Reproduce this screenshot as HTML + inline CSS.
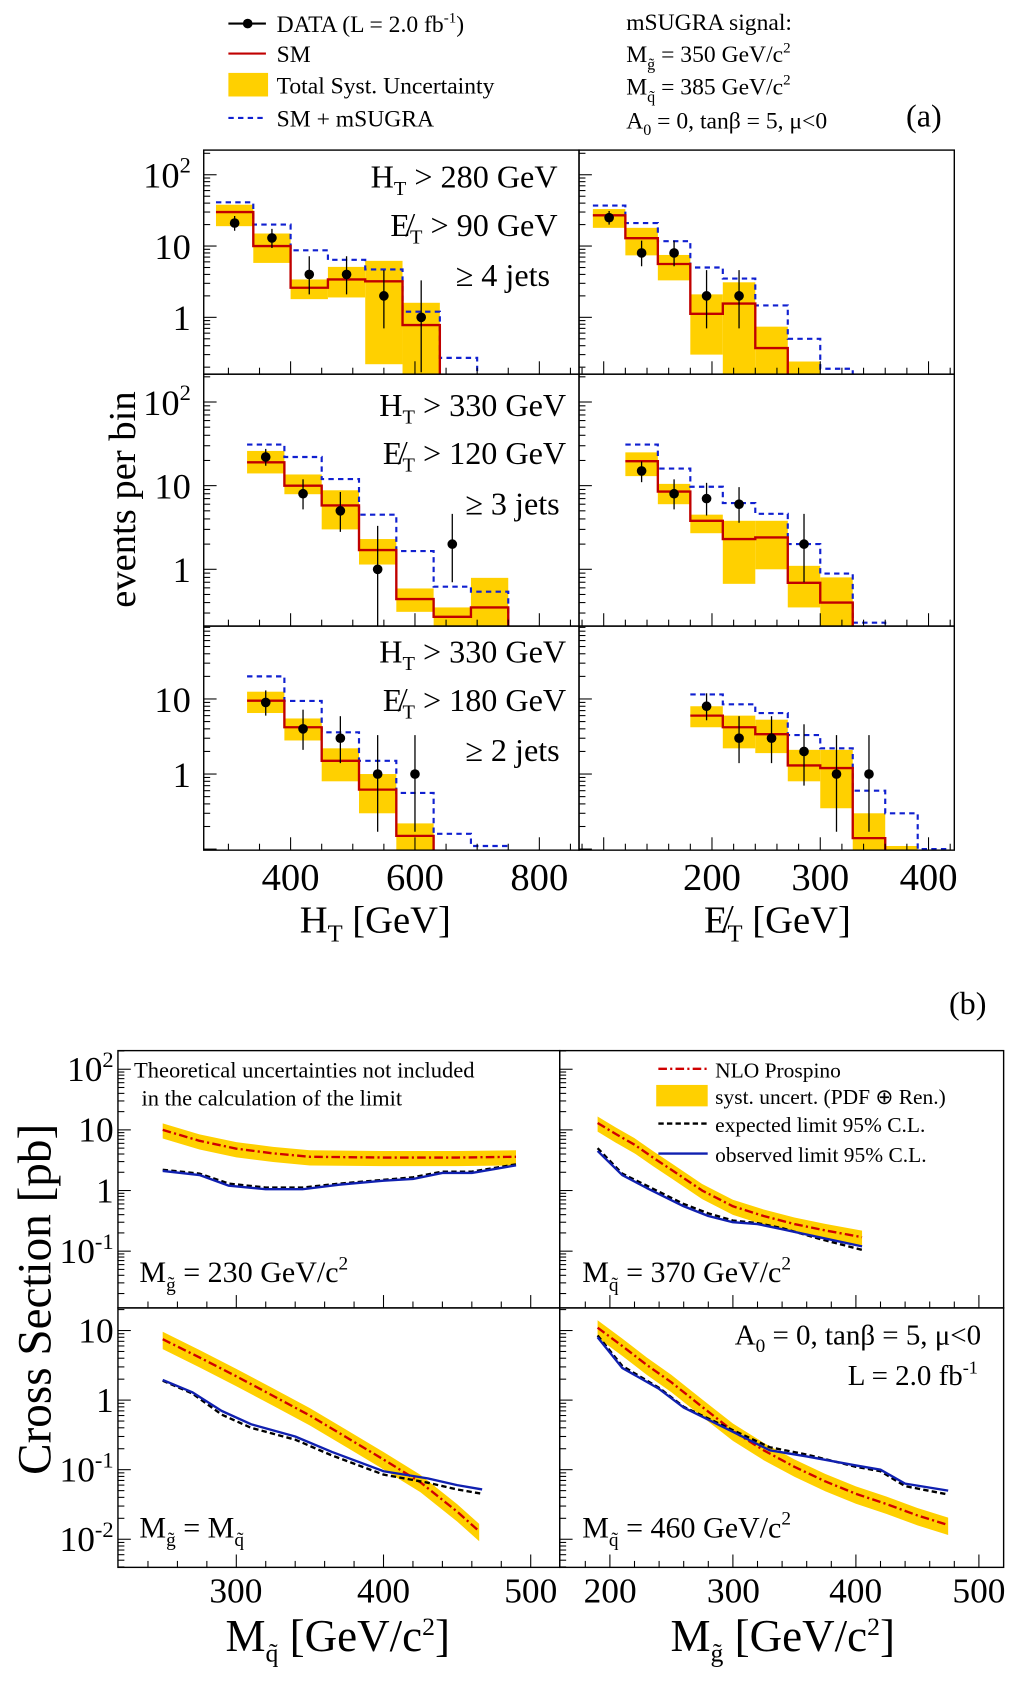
<!DOCTYPE html>
<html><head><meta charset="utf-8"><style>
html,body{margin:0;padding:0;background:#fff;}
svg{display:block;font-family:"Liberation Serif",serif;}
</style></head><body>
<svg id="fig" width="1024" height="1681" viewBox="0 0 955 1568" preserveAspectRatio="none" xmlns="http://www.w3.org/2000/svg">
<defs id="defs"></defs>
<g font-size="22">
 <line x1="213" y1="22" x2="248" y2="22" stroke="#000" stroke-width="2"/><circle cx="231" cy="22" r="4.5"/>
 <text x="258" y="30">DATA (L = 2.0 fb<tspan dy="-9" font-size="14">-1</tspan><tspan dy="9">)</tspan></text>
 <line x1="213" y1="50" x2="248" y2="50" stroke="#c00000" stroke-width="2"/>
 <text x="258" y="58">SM</text>
 <rect x="213" y="68" width="37" height="22" fill="#ffd000"/>
 <text x="258" y="87">Total Syst. Uncertainty</text>
 <line x1="213" y1="110" x2="248" y2="110" stroke="#1020d0" stroke-width="2" stroke-dasharray="5,4"/>
 <text x="258" y="118">SM + mSUGRA</text>
 <text x="584" y="28">mSUGRA signal:</text>
 <text x="584" y="58">M<tspan dy="7" font-size="15">g̃</tspan><tspan dy="-7"> = 350 GeV/c</tspan><tspan dy="-9" font-size="14">2</tspan></text>
 <text x="584" y="88">M<tspan dy="7" font-size="15">q̃</tspan><tspan dy="-7"> = 385 GeV/c</tspan><tspan dy="-9" font-size="14">2</tspan></text>
 <text x="584" y="120">A<tspan dy="6" font-size="15">0</tspan><tspan dy="-6"> = 0,  tanβ = 5,  μ&lt;0</tspan></text>
 <text x="845" y="118" font-size="30">(a)</text>
</g>
<text x="885" y="946" font-size="30">(b)</text>
<g id="plots"></g>
</svg>
<script>
// ---------- Panel (a) data ----------
const htEdgesR1 = [280,340,400,460,520,580,640,700,760,820,880];
const htEdgesR23 = [330,390,450,510,570,630,690,750,810,870];
const metEdgesR1 = [90,120,150,180,210,240,270,300,330,360,390,420,450];
const metEdgesR2 = [120,150,180,210,240,270,300,330,360,390,420,450];
const metEdgesR3 = [180,210,240,270,300,330,360,390,420,450];

const r1L_sm = [30,10,2.6,3.4,3.2,0.78,0,0,0,0];
const r1L_lo = [19,5.8,1.8,1.9,0.22,0,0,0,0,0];
const r1L_hi = [38,15,3.4,5.1,6.2,1.6,0,0,0,0];
const r1L_sig = [41,20,8.7,6.4,4.7,1.2,0.27,0,0,0];
const r1L_dx = [310,370,430,490,550,610];
const r1L_dy = [21,13,4,4,2,1];
const r1L_elo = [16.4,9.4,2.1,2.1,0.7,0.17];
const r1L_ehi = [26.4,17.4,7.2,7.2,4.6,3.3];

const r1R_sm = [27,12.9,5.6,1.12,1.56,0.37,0,0,0,0,0,0];
const r1R_lo = [18,7.4,3.3,0.3,0,0,0,0,0,0,0,0];
const r1R_hi = [33,18,7.5,2.1,3.1,0.74,0.24,0,0,0,0,0];
const r1R_sig = [37,21,11.7,5,3.5,1.47,0.5,0.19,0,0,0,0];
const r1R_dx = [105,135,165,195,225];
const r1R_dy = [25,8,8,2,2];
const r1R_elo = [20,5.2,5.2,0.7,0.7];
const r1R_ehi = [31,11.9,11.9,4.6,4.6];

const r2L_sm = [19,10,5.8,1.7,0.44,0.27,0.35,0,0];
const r2L_lo = [14,7.9,3.0,1.14,0.31,0,0,0,0];
const r2L_hi = [26,13.6,8.8,2.3,0.59,0.35,0.79,0,0];
const r2L_sig = [31,22,12,4.5,1.65,0.62,0.54,0,0];
const r2L_dx = [360,420,480,540,660];
const r2L_dy = [22,8,5,1,2];
const r2L_elo = [17.3,5.2,2.8,0.17,0.7];
const r2L_ehi = [27.5,11.9,8.4,3.3,4.6];

const r2R_sm = [19.6,8.5,3.8,2.3,2.4,0.69,0.4,0,0,0,0];
const r2R_lo = [13,6,2.7,0.67,1.0,0.35,0,0,0,0,0];
const r2R_hi = [25,10.5,4.5,3.8,3.8,1.1,0.8,0,0,0,0];
const r2R_sig = [31,16,9.7,6.2,4.6,2.0,0.89,0.23,0,0,0];
const r2R_dx = [135,165,195,225,285];
const r2R_dy = [15,8,7,6,2];
const r2R_elo = [11,5.2,4.4,3.6,0.7];
const r2R_ehi = [19.5,11.9,10.8,9.6,4.6];

const r3L_sm = [9.5,4.2,1.5,0.62,0.15,0,0,0,0];
const r3L_lo = [6.5,2.8,0.8,0.3,0,0,0,0,0];
const r3L_hi = [12.5,5.5,2.2,1.0,0.22,0,0,0,0];
const r3L_sig = [20,9.4,3.6,1.5,0.56,0.16,0.11,0,0];
const r3L_dx = [360,420,480,540,600];
const r3L_dy = [9,4,3,1,1];
const r3L_elo = [6,2.1,1.4,0.17,0.17];
const r3L_ehi = [13,7.2,5.9,3.3,3.3];

const r3R_sm = [6,4.2,3.4,1.3,1.2,0.14,0,0,0];
const r3R_lo = [4.2,2.2,1.9,0.8,0.35,0,0,0,0];
const r3R_hi = [8,6,5.3,2.1,2.1,0.3,0.11,0,0];
const r3R_sig = [11.5,8.5,6.5,3.3,2.2,0.6,0.3,0.1,0];
const r3R_dx = [195,225,255,285,315,345];
const r3R_dy = [8,3,3,2,1,1];
const r3R_elo = [5.2,1.4,1.4,0.7,0.17,0.17];
const r3R_ehi = [11.9,5.9,5.9,4.6,3.3,3.3];

// ---------- Panel (b) data ----------
const bTL_nloX = [250,275,300,325,350,400,450,490];
const bTL_nlo = [10,6.6,4.9,4.1,3.6,3.5,3.5,3.6];
const bTL_limX = [250,275,295,320,345,370,400,420,440,460,490];
const bTL_obs = [2.1,1.8,1.2,1.05,1.05,1.25,1.45,1.55,1.95,1.95,2.6];
const bTL_exp = [2.2,1.9,1.3,1.12,1.12,1.3,1.5,1.65,2.05,2.05,2.7];

const bTR_nloX = [190,205,220,235,250,275,300,325,350,375,405];
const bTR_nlo = [13,8.5,5.7,3.5,2.2,1.0,0.55,0.38,0.28,0.22,0.17];
const bTR_limX = [190,210,230,260,280,300,320,340,370,405];
const bTR_obs = [4.5,1.8,1.1,0.55,0.38,0.3,0.28,0.23,0.17,0.12];
const bTR_exp = [5,1.9,1.2,0.6,0.42,0.32,0.29,0.24,0.16,0.105];

const bBL_nloX = [250,275,300,325,350,375,400,425,450,465];
const bBL_nlo = [7.5,4.1,2.2,1.15,0.6,0.29,0.14,0.066,0.025,0.013];
const bBL_limX = [250,270,290,310,340,365,400,430,450,467];
const bBL_obs = [1.95,1.3,0.7,0.45,0.3,0.18,0.095,0.075,0.06,0.052];
const bBL_exp = [1.9,1.25,0.62,0.4,0.27,0.16,0.085,0.065,0.052,0.045];

const bBR_nloX = [190,210,230,250,275,300,325,350,375,400,425,450,475];
const bBR_nlo = [11,6,3.2,1.8,0.8,0.36,0.19,0.11,0.068,0.045,0.032,0.022,0.016];
const bBR_limX = [190,210,240,260,300,330,360,400,420,440,475];
const bBR_obs = [8,2.9,1.45,0.78,0.35,0.19,0.155,0.115,0.1,0.063,0.05];
const bBR_exp = [8.5,3.1,1.5,0.8,0.37,0.21,0.165,0.11,0.095,0.058,0.044];

const bandFrac = 0.28;

// ---------- drawing ----------
const NS = "http://www.w3.org/2000/svg";
const root = document.getElementById('plots');
const defs = document.getElementById('defs');
function el(tag, attrs, parent) {
  const e = document.createElementNS(NS, tag);
  for (const k in attrs) e.setAttribute(k, attrs[k]);
  (parent || root).appendChild(e);
  return e;
}
let clipN = 0;
function makePanel(name, x0, x1, y0, y1, xmin, xmax, lmin, lmax) {
  const g = el('g', {});
  
  
  const id = 'c' + (clipN++);
  const cp = el('clipPath', {id: id}, defs);
  el('rect', {x: x0, y: y0, width: x1 - x0, height: y1 - y0}, cp);
  const inner = el('g', {'clip-path': 'url(#' + id + ')'}, g);
  const P = {g, inner, x0, x1, y0, y1, lmin, lmax,
    X: v => x0 + (v - xmin) / (xmax - xmin) * (x1 - x0),
    Y: v => { const l = v > 0 ? Math.log10(v) : lmin - 1; return y1 - (l - lmin) / (lmax - lmin) * (y1 - y0); }
  };
  return P;
}
function yTicks(P) {
  const sg = el('g', {stroke: '#000', 'stroke-width': 1}, P.g);
  for (let d = Math.floor(P.lmin); d <= Math.ceil(P.lmax); d++) {
    for (let m = 1; m <= 9; m++) {
      const v = m * Math.pow(10, d), l = Math.log10(v);
      if (l < P.lmin || l > P.lmax) continue;
      const y = P.Y(v), len = m === 1 ? 12 : 6;
      el('line', {x1: P.x0, x2: P.x0 + len, y1: y, y2: y}, sg);
    }
  }
}
function xTicks(P, major, minor, lo, hi) {
  const sg = el('g', {stroke: '#000', 'stroke-width': 1}, P.g);
  for (let v = lo; v <= hi; v += minor) {
    const x = P.X(v);
    if (x < P.x0 + 1 || x > P.x1 - 1) continue;
    const len = (Math.abs(v / major - Math.round(v / major)) < 1e-6) ? 12 : 6;
    el('line', {x1: x, x2: x, y1: P.y1, y2: P.y1 - len}, sg);
  }
}
function frame(P) {
  const r = el('rect', {x: P.x0, y: P.y0, width: P.x1 - P.x0, height: P.y1 - P.y0, fill: 'none', stroke: '#000', 'stroke-width': 1.3}, P.g);
  
  
}
function histPanel(name, P, edges, sm, lo, hi, sig, dx, dy, elo, ehi) {
  const bottom = P.y1 + 2;
  const Yc = v => v > 0 ? Math.min(P.Y(v), bottom) : bottom;
  for (let i = 0; i < hi.length; i++) {
    if (!(hi[i] > 0)) continue;
    const r = el('rect', {x: P.X(edges[i]), y: Yc(hi[i]), width: P.X(edges[i + 1]) - P.X(edges[i]), height: Yc(lo[i]) - Yc(hi[i]), fill: '#ffd000'}, P.inner);
    
    
  }
  function step(vals, attrs, nm) {
    let d = '';
    for (let i = 0; i < vals.length; i++) {
      const y = Yc(vals[i]);
      d += (i ? ' L' : 'M') + P.X(edges[i]) + ' ' + y + ' L' + P.X(edges[i + 1]) + ' ' + y;
    }
    const p = el('path', Object.assign({d: d, fill: 'none'}, attrs), P.inner);
    
    
  }
  step(sig, {stroke: '#1020d0', 'stroke-width': 2, 'stroke-dasharray': '5,4'}, 'sm-msugra-hist');
  step(sm, {stroke: '#c00000', 'stroke-width': 2.2}, 'sm-hist');
  for (let i = 0; i < dx.length; i++) {
    const x = P.X(dx[i]);
    const l = el('line', {x1: x, x2: x, y1: Yc(elo[i]), y2: Yc(ehi[i]), stroke: '#000', 'stroke-width': 1.2}, P.inner);
    
    
    const c = el('circle', {cx: x, cy: Yc(dy[i]), r: 4.5, fill: '#000'}, P.inner);
    
    
  }
  frame(P);
}
function curvePanel(P, nloX, nlo, limX, obs, exp) {
  let up = '', dn = '';
  for (let i = 0; i < nloX.length; i++) up += (i ? ' L' : 'M') + P.X(nloX[i]) + ' ' + P.Y(nlo[i] * (1 + bandFrac));
  for (let i = nloX.length - 1; i >= 0; i--) dn += ' L' + P.X(nloX[i]) + ' ' + P.Y(nlo[i] * (1 - bandFrac));
  const b = el('path', {d: up + dn + ' Z', fill: '#ffd000'}, P.inner);
  
  
  function line(xs, ys, attrs, nm) {
    let d = '';
    for (let i = 0; i < xs.length; i++) d += (i ? ' L' : 'M') + P.X(xs[i]) + ' ' + P.Y(ys[i]);
    const p = el('path', Object.assign({d: d, fill: 'none', 'stroke-linejoin': 'round'}, attrs), P.inner);
    
    
  }
  line(nloX, nlo, {stroke: '#d00000', 'stroke-width': 2.2, 'stroke-dasharray': '8,3,2,3'}, 'nlo-prospino-curve');
  line(limX, exp, {stroke: '#000', 'stroke-width': 2.2, 'stroke-dasharray': '5,3'}, 'expected-limit-curve');
  line(limX, obs, {stroke: '#1020b0', 'stroke-width': 2.2}, 'observed-limit-curve');
  frame(P);
}
function txt(x, y, html, size, anchor, nm) {
  const t = el('text', {x: x, y: y, 'font-size': size, 'text-anchor': anchor || 'start'});
  t.innerHTML = html;
  
  
  return t;
}

// panel (a) geometry
const rows = [[140, 349, -0.797, 2.346], [349, 584, -0.679, 2.333], [584, 793, -1.014, 1.971]];
const HTmin = 260.3, HTmax = 863.8, METmin = 77.2, METmax = 423.8;
const leftData = [
  [htEdgesR1, r1L_sm, r1L_lo, r1L_hi, r1L_sig, r1L_dx, r1L_dy, r1L_elo, r1L_ehi],
  [htEdgesR23, r2L_sm, r2L_lo, r2L_hi, r2L_sig, r2L_dx, r2L_dy, r2L_elo, r2L_ehi],
  [htEdgesR23, r3L_sm, r3L_lo, r3L_hi, r3L_sig, r3L_dx, r3L_dy, r3L_elo, r3L_ehi]];
const rightData = [
  [metEdgesR1, r1R_sm, r1R_lo, r1R_hi, r1R_sig, r1R_dx, r1R_dy, r1R_elo, r1R_ehi],
  [metEdgesR2, r2R_sm, r2R_lo, r2R_hi, r2R_sig, r2R_dx, r2R_dy, r2R_elo, r2R_ehi],
  [metEdgesR3, r3R_sm, r3R_lo, r3R_hi, r3R_sig, r3R_dx, r3R_dy, r3R_elo, r3R_ehi]];
for (let r = 0; r < 3; r++) {
  const [y0, y1, lmin, lmax] = rows[r];
  const PL = makePanel('ht-panel-row' + (r + 1), 190, 540, y0, y1, HTmin, HTmax, lmin, lmax);
  histPanel('', PL, ...leftData[r]);
  yTicks(PL); xTicks(PL, 200, 50, 300, 850);
  const PR = makePanel('met-panel-row' + (r + 1), 540, 890, y0, y1, METmin, METmax, lmin, lmax);
  histPanel('', PR, ...rightData[r]);
  yTicks(PR); xTicks(PR, 100, 20, 80, 420);
  for (let d = 0; d <= Math.floor(lmax); d++) {
    const y = PL.Y(Math.pow(10, d)) + 12;
    const lab = d === 0 ? '1' : d === 1 ? '10' : '10<tspan dy="-14" font-size="21">2</tspan>';
    txt(178, y, lab, 34, 'end', 'y-tick-label');
  }
}
const cutTexts = [
  ['H<tspan dy="7" font-size="19">T</tspan><tspan dy="-7"> &gt; 280 GeV</tspan>', 'E̸<tspan dy="7" font-size="19">T</tspan><tspan dy="-7"> &gt;   90 GeV</tspan>', '≥ 4 jets', 175],
  ['H<tspan dy="7" font-size="19">T</tspan><tspan dy="-7"> &gt; 330 GeV</tspan>', 'E̸<tspan dy="7" font-size="19">T</tspan><tspan dy="-7"> &gt; 120 GeV</tspan>', '≥ 3 jets', 388],
  ['H<tspan dy="7" font-size="19">T</tspan><tspan dy="-7"> &gt; 330 GeV</tspan>', 'E̸<tspan dy="7" font-size="19">T</tspan><tspan dy="-7"> &gt; 180 GeV</tspan>', '≥ 2 jets', 618]];
cutTexts.forEach((c, i) => {
  const xr = i === 0 ? 520 : 528;
  txt(xr, c[3], c[0], 30, 'end', 'cut-ht');
  txt(xr, c[3] + 45, c[1], 30, 'end', 'cut-met');
  txt(i === 0 ? 513 : 522, c[3] + 92, c[2], 30, 'end', 'cut-jets');
});
[[400, 271], [600, 387], [800, 503]].forEach(([v, x]) => txt(x, 830, String(v), 36, 'middle', 'x-tick-label-ht'));
[[200, 664], [300, 765], [400, 866]].forEach(([v, x]) => txt(x, 830, String(v), 36, 'middle', 'x-tick-label-met'));
txt(350, 870, 'H<tspan dy="8" font-size="23">T</tspan><tspan dy="-8">  [GeV]</tspan>', 36, 'middle', 'x-axis-title-ht');
txt(725, 870, 'E̸<tspan dy="8" font-size="23">T</tspan><tspan dy="-8">  [GeV]</tspan>', 36, 'middle', 'x-axis-title-met');
const yt = txt(0, 0, 'events per bin', 36, 'middle', 'y-axis-title-a');
yt.setAttribute('transform', 'translate(126,466) rotate(-90)');

// panel (b)
const bRows = [[980, 1220, -1.936, 2.307], [1220, 1462, -2.404, 1.325]];
const bL = [219.6, 519.7], bR = [159.2, 520.1];
const bData = [[[bTL_nloX, bTL_nlo, bTL_limX, bTL_obs, bTL_exp], [bTR_nloX, bTR_nlo, bTR_limX, bTR_obs, bTR_exp]],
               [[bBL_nloX, bBL_nlo, bBL_limX, bBL_obs, bBL_exp], [bBR_nloX, bBR_nlo, bBR_limX, bBR_obs, bBR_exp]]];
const bNames = [['xsec-panel-gluino230', 'xsec-panel-squark370'], ['xsec-panel-equal-mass', 'xsec-panel-squark460']];
for (let r = 0; r < 2; r++) {
  const [y0, y1, lmin, lmax] = bRows[r];
  const PL = makePanel(bNames[r][0], 110, 522, y0, y1, bL[0], bL[1], lmin, lmax);
  curvePanel(PL, ...bData[r][0]); yTicks(PL); xTicks(PL, 100, 20, 220, 520);
  const PR = makePanel(bNames[r][1], 522, 936, y0, y1, bR[0], bR[1], lmin, lmax);
  curvePanel(PR, ...bData[r][1]); yTicks(PR); xTicks(PR, 100, 20, 160, 520);
  for (let d = Math.ceil(lmin); d <= Math.floor(lmax); d++) {
    const y = PL.Y(Math.pow(10, d)) + 11;
    let lab = d === 0 ? '1' : d === 1 ? '10' : '10<tspan dy="-13" font-size="21">' + d + '</tspan>';
    txt(106, y, lab, 33, 'end', 'y-tick-label-b');
  }
}
txt(125, 1005, 'Theoretical uncertainties not included', 21, 'start', 'note-theory-1');
txt(132, 1031, 'in the calculation of the limit', 21, 'start', 'note-theory-2');
el('line', {x1: 614, x2: 660, y1: 997, y2: 997, stroke: '#d00000', 'stroke-width': 2.2, 'stroke-dasharray': '8,3,2,3'});
txt(667, 1005, 'NLO Prospino', 20, 'start', 'legend-nlo');
el('rect', {x: 612, y: 1012, width: 48, height: 20, fill: '#ffd000'});
txt(667, 1030, 'syst. uncert. (PDF ⊕ Ren.)', 20, 'start', 'legend-syst-b');
el('line', {x1: 614, x2: 660, y1: 1048, y2: 1048, stroke: '#000', 'stroke-width': 2.2, 'stroke-dasharray': '5,3'});
txt(667, 1056, 'expected limit 95% C.L.', 20, 'start', 'legend-expected');
el('line', {x1: 614, x2: 660, y1: 1076, y2: 1076, stroke: '#1020b0', 'stroke-width': 2.2});
txt(667, 1084, 'observed limit 95% C.L.', 20, 'start', 'legend-observed');
txt(130, 1196, 'M<tspan dy="8" font-size="18">g̃</tspan><tspan dy="-8"> = 230 GeV/c</tspan><tspan dy="-12" font-size="18">2</tspan>', 28, 'start', 'label-gluino230');
txt(543, 1196, 'M<tspan dy="8" font-size="18">q̃</tspan><tspan dy="-8"> = 370 GeV/c</tspan><tspan dy="-12" font-size="18">2</tspan>', 28, 'start', 'label-squark370');
txt(130, 1434, 'M<tspan dy="8" font-size="18">g̃</tspan><tspan dy="-8"> = M</tspan><tspan dy="8" font-size="18">q̃</tspan>', 28, 'start', 'label-equal-mass');
txt(543, 1434, 'M<tspan dy="8" font-size="18">q̃</tspan><tspan dy="-8"> = 460 GeV/c</tspan><tspan dy="-12" font-size="18">2</tspan>', 28, 'start', 'label-squark460');
txt(915, 1254, 'A<tspan dy="7" font-size="18">0</tspan><tspan dy="-7"> = 0,  tanβ = 5,  μ&lt;0</tspan>', 27, 'end', 'label-params');
txt(912, 1292, 'L = 2.0 fb<tspan dy="-11" font-size="17">-1</tspan>', 27, 'end', 'label-lumi');
[[300, 220], [400, 357.7], [500, 495]].forEach(([v, x]) => txt(x, 1495, String(v), 33, 'middle', 'x-tick-label-squark'));
[[200, 569], [300, 684], [400, 798], [500, 913]].forEach(([v, x]) => txt(x, 1495, String(v), 33, 'middle', 'x-tick-label-gluino'));
txt(315, 1540, 'M<tspan dy="10" font-size="24">q̃</tspan><tspan dy="-10">  [GeV/c</tspan><tspan dy="-15" font-size="24">2</tspan><tspan dy="15">]</tspan>', 42, 'middle', 'x-axis-title-squark');
txt(730, 1540, 'M<tspan dy="10" font-size="24">g̃</tspan><tspan dy="-10">  [GeV/c</tspan><tspan dy="-15" font-size="24">2</tspan><tspan dy="15">]</tspan>', 42, 'middle', 'x-axis-title-gluino');
const yb = txt(0, 0, 'Cross Section  [pb]', 44, 'middle', 'y-axis-title-b');
yb.setAttribute('transform', 'translate(47,1212) rotate(-90)');
</script>
</body></html>
